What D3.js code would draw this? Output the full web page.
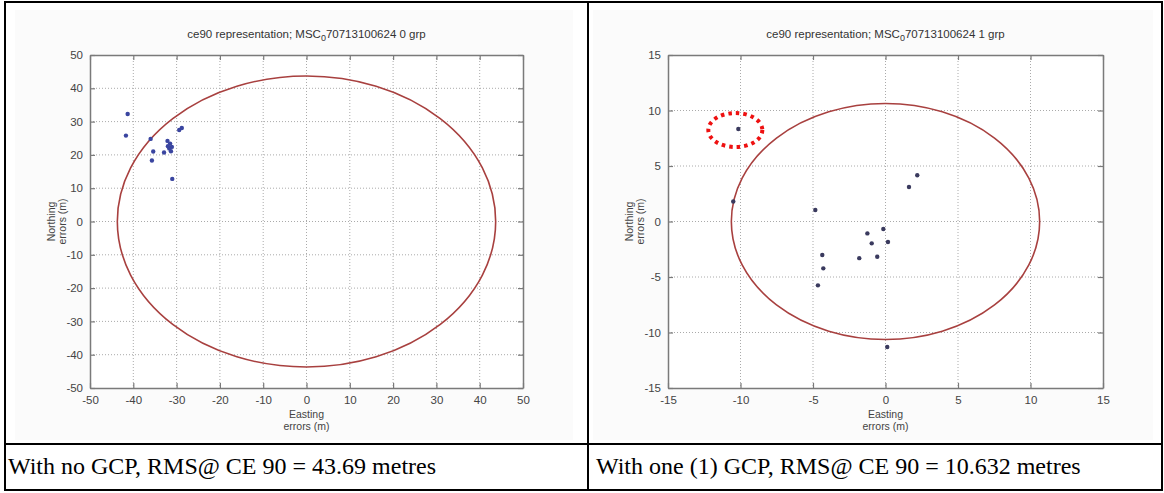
<!DOCTYPE html>
<html>
<head>
<meta charset="utf-8">
<script src="https://cdn.jsdelivr.net/npm/d3@7"></script>
<style>
  body { margin: 0; background: #fff; }
  svg { display: block; }
</style>
</head>
<body>
<div id="chart"></div>
<script>
// ---- data ----
const ce90Left = 43.69;
const ce90Right = 10.632;

const leftEasting  = [-41.3, -41.7, -36.0, -35.4, -35.7, -32.9, -32.1, -31.5, -31.1, -31.7, -31.3, -32.0, -29.4, -28.8, -31.0];
const leftNorthing = [ 32.3,  25.8,  24.8,  21.0,  18.3,  20.7,  24.2,  23.4,  22.4,  21.9,  21.1,  22.6,  27.5,  28.1,  12.8];

const rightEasting  = [-10.15, -10.5, -4.84, 2.19, 1.62, -0.15, -1.25, -0.95, 0.17, -1.81, -0.57, -4.36, -4.29, -4.66, 0.12];
const rightNorthing = [  8.33,   1.8,  1.04, 4.16, 3.11, -0.68, -1.07, -1.97, -1.85, -3.3, -3.18, -3.02, -4.22, -5.75, -11.3];

const leftTicks = [-50, -40, -30, -20, -10, 0, 10, 20, 30, 40, 50];
const rightTicks = [-15, -10, -5, 0, 5, 10, 15];

const captions = [
  "With no GCP, RMS@ CE 90 = 43.69 metres",
  "With one (1) GCP, RMS@ CE 90 = 10.632 metres"
];

const W = 1164, H = 493;
const svg = d3.select("#chart").append("svg").attr("width", W).attr("height", H);

// table frame
const tbl = svg.append("g").attr("stroke", "#000").attr("fill", "none");
tbl.append("rect").attr("x", 5).attr("y", 2).attr("width", 1157).attr("height", 488).attr("stroke-width", 2);
tbl.append("line").attr("x1", 588).attr("x2", 588).attr("y1", 2).attr("y2", 490).attr("stroke-width", 2);
tbl.append("line").attr("x1", 5).attr("x2", 1162).attr("y1", 444).attr("y2", 444).attr("stroke-width", 2);

// captions
svg.selectAll("text.caption")
  .data(captions)
  .enter()
  .append("text")
  .attr("class", "caption")
  .attr("x", (d, i) => i === 0 ? 8 : 596)
  .attr("y", 474)
  .attr("font-family", "Liberation Serif, Times New Roman, serif")
  .attr("font-size", 24)
  .attr("fill", "#000")
  .text(d => d);

function drawPanel(opts) {
  const g = svg.append("g");
  const x = d3.scaleLinear().domain(opts.domain).range([opts.left, opts.right]);
  const y = d3.scaleLinear().domain(opts.domain).range([opts.bottom, opts.top]);
  const fmt = d => String(d); // plain hyphen minus like MATLAB

  // figure background
  g.append("rect")
    .attr("x", opts.left - 75).attr("y", 10)
    .attr("width", opts.right - opts.left + 125).attr("height", 430)
    .attr("fill", "#fbfbfb");
  g.append("rect")
    .attr("x", opts.left).attr("y", opts.top)
    .attr("width", opts.right - opts.left).attr("height", opts.bottom - opts.top)
    .attr("fill", "#fff");

  // dotted grid
  const grid = g.append("g").attr("stroke", "#aaa").attr("stroke-width", 1).attr("stroke-dasharray", "1,2");
  grid.selectAll("line.gx").data(opts.ticks.slice(1, -1)).enter().append("line")
    .attr("x1", d => x(d)).attr("x2", d => x(d)).attr("y1", opts.top).attr("y2", opts.bottom);
  grid.selectAll("line.gy").data(opts.ticks.slice(1, -1)).enter().append("line")
    .attr("y1", d => y(d)).attr("y2", d => y(d)).attr("x1", opts.left).attr("x2", opts.right);

  // axes (MATLAB style: inward ticks)
  const axStyle = sel => {
    sel.select(".domain").attr("stroke", "#7a7a7a").attr("stroke-width", 1.5);
    sel.selectAll(".tick line").attr("stroke", "#7a7a7a").attr("stroke-width", 1.2);
    sel.selectAll(".tick text").attr("fill", "#444").attr("font-size", 11.5)
      .attr("font-family", "Liberation Sans, Arial, sans-serif");
  };
  g.append("g").attr("transform", `translate(0,${opts.bottom})`)
    .call(d3.axisBottom(x).tickValues(opts.ticks).tickSize(-5).tickSizeOuter(0).tickPadding(8).tickFormat(fmt))
    .call(axStyle);
  g.append("g").attr("transform", `translate(0,${opts.top})`)
    .call(d3.axisTop(x).tickValues(opts.ticks).tickSize(-5).tickSizeOuter(0).tickFormat(""))
    .call(axStyle);
  g.append("g").attr("transform", `translate(${opts.left},0)`)
    .call(d3.axisLeft(y).tickValues(opts.ticks).tickSize(-5).tickSizeOuter(0).tickPadding(7).tickFormat(fmt))
    .call(axStyle);
  g.append("g").attr("transform", `translate(${opts.right},0)`)
    .call(d3.axisRight(y).tickValues(opts.ticks).tickSize(-5).tickSizeOuter(0).tickFormat(""))
    .call(axStyle);

  // CE90 circle
  g.append("ellipse")
    .attr("cx", x(0)).attr("cy", y(0))
    .attr("rx", x(opts.radius) - x(0))
    .attr("ry", y(0) - y(opts.radius))
    .attr("fill", "none")
    .attr("stroke", "#a8403f")
    .attr("stroke-width", 1.6);

  // error points
  g.selectAll("circle.pt")
    .data(opts.east.map((e, i) => [e, opts.north[i]]))
    .enter()
    .append("circle")
    .attr("class", "pt")
    .attr("cx", d => x(d[0]))
    .attr("cy", d => y(d[1]))
    .attr("r", 2.2)
    .attr("fill", opts.pointColor);

  const cx = (opts.left + opts.right) / 2;
  const font = "Liberation Sans, Arial, sans-serif";

  // title with subscript
  const title = g.append("text")
    .attr("x", cx).attr("y", 38)
    .attr("text-anchor", "middle")
    .attr("font-family", font).attr("font-size", 11.5).attr("fill", "#333");
  title.append("tspan").text("ce90 representation; MSC");
  title.append("tspan").attr("dy", 3).attr("font-size", 9).text("0");
  title.append("tspan").attr("dy", -3).text(opts.titleTail);

  // x label
  g.append("text").attr("x", cx).attr("y", 418).attr("text-anchor", "middle")
    .attr("font-family", font).attr("font-size", 10.5).attr("fill", "#444").text("Easting");
  g.append("text").attr("x", cx).attr("y", 430).attr("text-anchor", "middle")
    .attr("font-family", font).attr("font-size", 10.5).attr("fill", "#444").text("errors (m)");

  // y label
  const ymid = (opts.top + opts.bottom) / 2;
  g.append("text").attr("transform", `translate(${opts.left - 35},${ymid}) rotate(-90)`)
    .attr("text-anchor", "middle").attr("font-family", font).attr("font-size", 10.5)
    .attr("fill", "#444").text("Northing");
  g.append("text").attr("transform", `translate(${opts.left - 24},${ymid}) rotate(-90)`)
    .attr("text-anchor", "middle").attr("font-family", font).attr("font-size", 10.5)
    .attr("fill", "#444").text("errors (m)");

  return { x, y, g };
}

drawPanel({
  domain: [-50, 50], ticks: leftTicks,
  left: 90, right: 523, top: 55, bottom: 388,
  radius: ce90Left, east: leftEasting, north: leftNorthing,
  pointColor: "#3a45a0", titleTail: "70713100624 0 grp"
});

const right = drawPanel({
  domain: [-15, 15], ticks: rightTicks,
  left: 668, right: 1103, top: 55, bottom: 388,
  radius: ce90Right, east: rightEasting, north: rightNorthing,
  pointColor: "#3a3a5e", titleTail: "70713100624 1 grp"
});

// red dotted highlight around the outlier point
right.g.append("ellipse")
  .attr("cx", right.x(rightEasting[0]) - 3)
  .attr("cy", right.y(rightNorthing[0]) + 1)
  .attr("rx", 27).attr("ry", 17)
  .attr("fill", "none")
  .attr("stroke", "#ee1111")
  .attr("stroke-width", 4)
  .attr("stroke-linecap", "butt")
  .attr("stroke-dasharray", "3.5,4");
</script>
</body>
</html>
